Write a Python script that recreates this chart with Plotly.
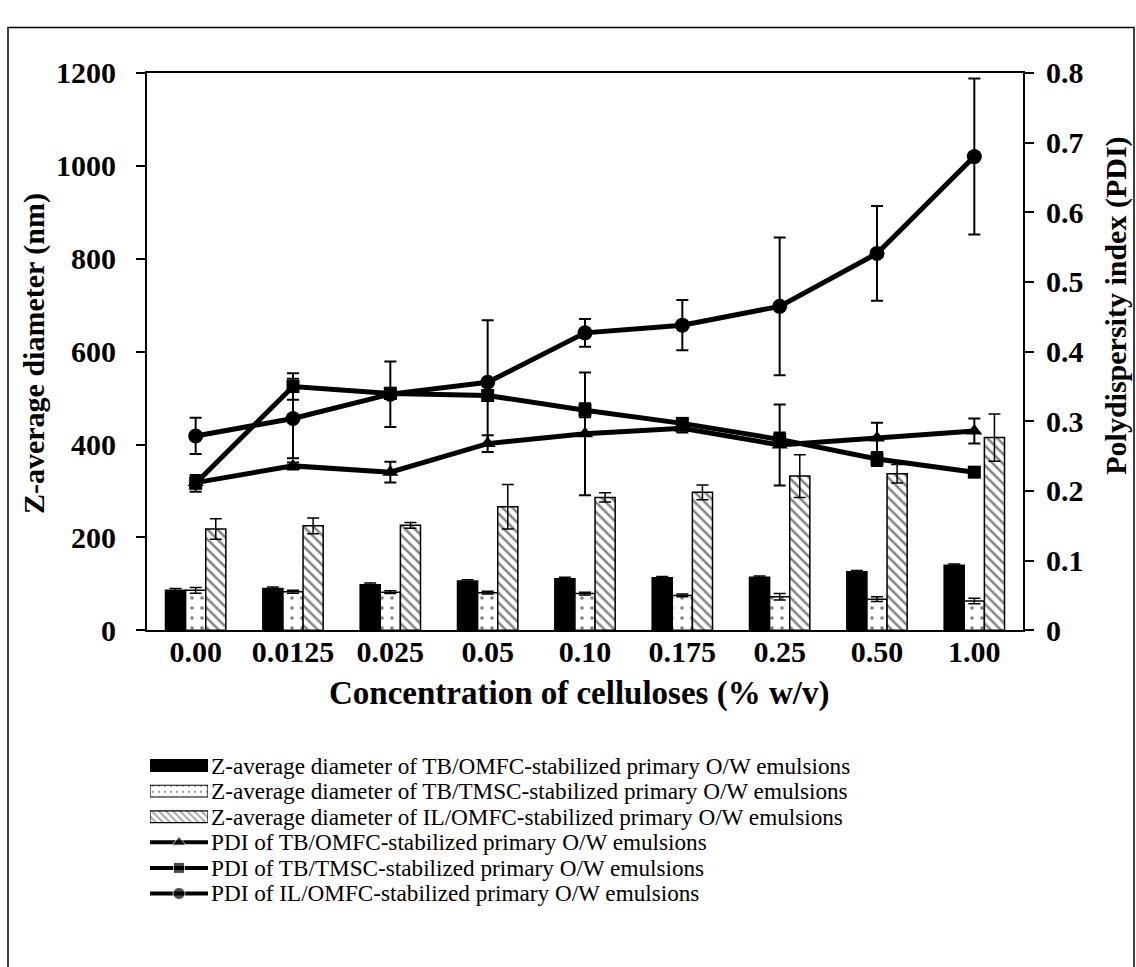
import plotly.graph_objects as go

# ---------------- data ----------------
categories = ["0.00", "0.0125", "0.025", "0.05", "0.10", "0.175", "0.25", "0.50", "1.00"]

z_tb_omfc = [86, 90, 98, 106, 111, 113, 114, 126, 140]
z_tb_omfc_err = [4, 3, 4, 3, 3, 3, 3, 3, 3]
z_tb_tmsc = [86, 83, 82, 81, 79, 75, 72, 67, 63]
z_tb_tmsc_err = [6, 3, 3, 3, 3, 3, 7, 5, 6]
z_il_omfc = [218, 225, 226, 266, 286, 297, 332, 337, 415]
z_il_omfc_err = [22, 17, 6, 48, 10, 16, 46, 20, 51]

pdi_tb_omfc = [0.212, 0.236, 0.227, 0.268, 0.282, 0.290, 0.266, 0.276, 0.286]
pdi_tb_omfc_err = [0.008, 0.005, 0.015, 0.012, 0.088, 0.006, 0.058, 0.022, 0.018]
pdi_tb_tmsc = [0.211, 0.350, 0.340, 0.337, 0.316, 0.297, 0.274, 0.246, 0.227]
pdi_tb_tmsc_err = [0.012, 0.019, 0.008, 0.008, 0.010, 0.006, 0.010, 0.010, 0.006]
pdi_il_omfc = [0.279, 0.304, 0.339, 0.356, 0.427, 0.438, 0.465, 0.541, 0.680]
pdi_il_omfc_err = [0.026, 0.057, 0.047, 0.089, 0.020, 0.036, 0.099, 0.068, 0.112]

legend_labels = [
    "Z-average diameter of TB/OMFC-stabilized primary O/W emulsions",
    "Z-average diameter of TB/TMSC-stabilized primary O/W emulsions",
    "Z-average diameter of IL/OMFC-stabilized primary O/W emulsions",
    "PDI of TB/OMFC-stabilized primary O/W emulsions",
    "PDI of TB/TMSC-stabilized primary O/W emulsions",
    "PDI of IL/OMFC-stabilized primary O/W emulsions",
]

# ---------------- layout helpers ----------------
W, H = 1136, 967


def fx(px):
    return px / W


def fy(py):
    return 1 - py / H


X0, X1 = 147, 1023      # plot area left / right (px)
YT, YB = 59, 636        # plot area top / bottom (px)
FONT = "Liberation Serif"
BOLD30 = dict(family=FONT, size=30, color="black", weight="bold")
BOLD33 = dict(family=FONT, size=33, color="black", weight="bold")

PAT_DOT = dict(shape=".", fgcolor="black", bgcolor="white", size=10, solidity=0.1)
PAT_HATCH = dict(shape="\\", fgcolor="black", bgcolor="white", size=7, solidity=0.35)

fig = go.Figure()

bar_err = dict(type="data", color="black", thickness=1.5, width=6, visible=True)

fig.add_trace(go.Bar(
    x=categories, y=z_tb_omfc, name=legend_labels[0], showlegend=False,
    marker=dict(color="black", line=dict(color="black", width=1.5)),
    error_y=dict(array=z_tb_omfc_err, **bar_err)))
fig.add_trace(go.Bar(
    x=categories, y=z_tb_tmsc, name=legend_labels[1], showlegend=False,
    marker=dict(color="white", pattern=PAT_DOT, line=dict(color="black", width=1.5)),
    error_y=dict(array=z_tb_tmsc_err, **bar_err)))
fig.add_trace(go.Bar(
    x=categories, y=z_il_omfc, name=legend_labels[2], showlegend=False,
    marker=dict(color="white", pattern=PAT_HATCH, line=dict(color="black", width=1.5)),
    error_y=dict(array=z_il_omfc_err, **bar_err)))

line_err = dict(type="data", color="black", thickness=2, width=6, visible=True)
for vals, errs, sym, size, name in [
    (pdi_tb_omfc, pdi_tb_omfc_err, "triangle-up", 14, legend_labels[3]),
    (pdi_tb_tmsc, pdi_tb_tmsc_err, "square", 13, legend_labels[4]),
    (pdi_il_omfc, pdi_il_omfc_err, "circle", 15, legend_labels[5]),
]:
    fig.add_trace(go.Scatter(
        x=categories, y=vals, yaxis="y2", mode="lines+markers", name=name,
        showlegend=False,
        line=dict(color="black", width=5),
        marker=dict(symbol=sym, size=size, color="black"),
        error_y=dict(array=errs, **line_err)))

# ---------------- hand-made legend (symbols on a hidden axis) ----------------
LEG_TOP, LEG_STEP = 776, 26.5
legend_rows_px = [LEG_TOP + i * LEG_STEP for i in range(6)]

fig.add_trace(go.Bar(
    x=[1, 1, 1], y=[0, 1, 2], base=0, orientation="h", width=0.46,
    xaxis="x3", yaxis="y3", showlegend=False, hoverinfo="skip",
    marker=dict(color=["black", "white", "white"],
                pattern=dict(shape=["", ".", "\\"], fgcolor="black",
                             size=[8, 6, 5], solidity=[0.3, 0.12, 0.35]),
                line=dict(color="black", width=1.2))))
for row, sym, size in [(3, "triangle-up", 12), (4, "square", 11), (5, "circle", 12)]:
    fig.add_trace(go.Scatter(
        x=[0, 0.5, 1], y=[row, row, row], xaxis="x3", yaxis="y3",
        mode="lines+markers", showlegend=False, hoverinfo="skip",
        line=dict(color="black", width=4),
        marker=dict(symbol=sym, size=[0, size, 0], color="black")))

annotations = []
for lab, ypx in zip(legend_labels, legend_rows_px):
    annotations.append(dict(
        text=lab, x=fx(209), y=fy(ypx), xref="paper", yref="paper",
        xanchor="left", yanchor="middle", showarrow=False,
        font=dict(family=FONT, size=23.2, color="black")))

annotations += [
    dict(text="Z-average diameter (nm)", x=fx(34), y=fy(350), xref="paper", yref="paper",
         textangle=-90, showarrow=False, xanchor="center", yanchor="middle", font=BOLD30),
    dict(text="Polydispersity index (PDI)", x=fx(1116), y=fy(300), xref="paper", yref="paper",
         textangle=-90, showarrow=False, xanchor="center", yanchor="middle", font=BOLD30),
    dict(text="Concentration of celluloses (% w/v)", x=fx(579), y=fy(701), xref="paper",
         yref="paper", showarrow=False, xanchor="center", yanchor="middle", font=BOLD33),
]

axis_common = dict(showline=True, linecolor="black", linewidth=2, showgrid=False,
                   zeroline=False, tickfont=BOLD30)

fig.update_layout(
    width=W, height=H,
    margin=dict(l=0, r=0, t=0, b=0),
    paper_bgcolor="white", plot_bgcolor="white",
    barmode="group", bargap=0.38, bargroupgap=0,
    showlegend=False,
    xaxis=dict(domain=[fx(X0), fx(X1)], type="category", range=[-0.5, 8.5],
               ticks="", mirror=True, ticklabelstandoff=-6, anchor="y", **axis_common),
    yaxis=dict(domain=[fy(YB), fy(YT)], range=[0, 1200], dtick=200, anchor="x",
               ticks="outside", ticklen=9, tickwidth=2, tickcolor="black",
               ticklabelstandoff=14, **axis_common),
    yaxis2=dict(overlaying="y", side="right", anchor="x", range=[0, 0.8], dtick=0.1,
                ticks="outside", ticklen=9, tickwidth=2, tickcolor="black",
                ticklabelstandoff=6, **axis_common),
    xaxis3=dict(domain=[fx(150), fx(208)], range=[0, 1], visible=False, anchor="y3",
                fixedrange=True),
    yaxis3=dict(domain=[fy(LEG_TOP + 5.5 * LEG_STEP), fy(LEG_TOP - 0.5 * LEG_STEP)],
                range=[5.5, -0.5], visible=False, anchor="x3", fixedrange=True),
    annotations=annotations,
    shapes=[dict(type="rect", xref="paper", yref="paper",
                 x0=fx(8), x1=fx(1134), y0=fy(990), y1=fy(12),
                 line=dict(color="black", width=1.5), fillcolor="rgba(0,0,0,0)",
                 layer="below")],
)

fig.write_html("out.html")
